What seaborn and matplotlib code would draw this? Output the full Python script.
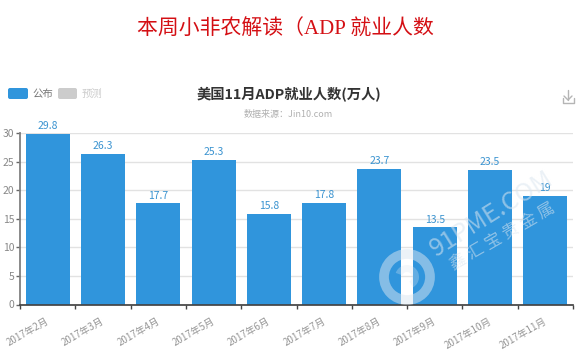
import pandas as pd
import seaborn as sns
import matplotlib
matplotlib.use('Agg')
import matplotlib.pyplot as plt
from matplotlib.patches import FancyBboxPatch, Circle, Wedge
from matplotlib.transforms import ScaledTranslation

months = ['2017年2月', '2017年3月', '2017年4月', '2017年5月', '2017年6月',
          '2017年7月', '2017年8月', '2017年9月', '2017年10月', '2017年11月']
values = [29.8, 26.3, 17.7, 25.3, 15.8, 17.8, 23.7, 13.5, 23.5, 19]
value_labels = ['29.8', '26.3', '17.7', '25.3', '15.8', '17.8', '23.7', '13.5', '23.5', '19']
y_ticks = [0, 5, 10, 15, 20, 25, 30]

W, H = 581, 361
BLUE = '#3095dc'
MARK = '#dbe6f0'

sns.set_theme(style='white')
plt.rcParams['font.family'] = ['Noto Sans CJK SC', 'DejaVu Sans']

df = pd.DataFrame({'month': months, 'value': values})

fig = plt.figure(figsize=(W / 100, H / 100), dpi=100)
ax = fig.add_axes([20 / W, (H - 304.5) / H, 553 / W, 171.5 / H])

ax.yaxis.grid(True, color='#e2e2e2', linewidth=1)
ax.set_axisbelow(True)
sns.barplot(data=df, x='month', y='value', color=BLUE, saturation=1, width=0.795,
            linewidth=0, ax=ax)

ax.set_xlim(-0.5, 9.5)
ax.set_ylim(0, 30)
ax.set_xlabel('')
ax.set_ylabel('')
ax.set_yticks(y_ticks)
ax.tick_params(axis='y', left=True, length=3, width=1, color='#666666', labelcolor='#888888',
               labelsize=7.5, pad=1)

# ticks sit between the bars, labels stay under them
ax.set_xticks(range(len(months)))
ax.set_xticklabels(months, rotation=30, ha='right', rotation_mode='anchor')
ax.tick_params(axis='x', bottom=False, labelcolor='#969696', labelsize=7, pad=2)
shift = ScaledTranslation(-2 / 100, 0, fig.dpi_scale_trans)
for lab in ax.get_xticklabels():
    lab.set_transform(lab.get_transform() + shift)
ax.set_xticks([i - 0.5 for i in range(len(months) + 1)], minor=True)
ax.tick_params(axis='x', which='minor', bottom=True, length=3, width=1, color='#444444')

for s in ['top', 'right']:
    ax.spines[s].set_visible(False)
ax.spines['left'].set_color('#808080')
ax.spines['left'].set_linewidth(1.3)
ax.spines['bottom'].set_color('#444444')

for i, v in enumerate(values):
    ax.annotate(value_labels[i], (i, v), xytext=(0, 2), textcoords='offset points',
                ha='center', va='bottom', fontsize=7.5, color='#3a93d0', clip_on=False)

# pixel coords for everything outside the axes
over = fig.add_axes([0, 0, 1, 1], facecolor='none')
over.set_xlim(0, W)
over.set_ylim(H, 0)
over.axis('off')

over.text(285, 30, '本周小非农解读（ADP 就业人数', color='#d40f14', fontsize=15,
          family=['Liberation Serif', 'Noto Sans CJK SC'], ha='center', va='center')
over.text(289, 95, '美国11月ADP就业人数(万人)', color='#333333', fontsize=10.3,
          fontweight='bold', ha='center', va='center')
over.text(288.5, 115, '数据来源：Jin10.com', color='#b0b0b0', fontsize=6.5,
          ha='center', va='center')

over.add_patch(FancyBboxPatch((8, 88), 20, 11, boxstyle='round,pad=0,rounding_size=2',
                              fc=BLUE, ec='none'))
over.text(32, 93.5, '公布', color='#777777', fontsize=7.5, va='center')
over.add_patch(FancyBboxPatch((58, 88), 19, 11, boxstyle='round,pad=0,rounding_size=2',
                              fc='#cccccc', ec='none'))
over.text(82, 93.5, '预测', color='#cccccc', fontsize=7.5, va='center')

# download icon
icon = '#b5b5b5'
over.plot([568, 568], [90, 100], color=icon, lw=1)
over.plot([564, 568, 572], [96, 100, 96], color=icon, lw=1)
over.plot([562.5, 562.5, 573.5, 573.5], [98, 103, 103, 98], color=icon, lw=1)

# watermark
over.add_patch(Circle((407, 277), 23, fc='none', ec=MARK, lw=7, alpha=0.5))
over.add_patch(Wedge((407, 277), 12, 200, 60, width=7, fc=MARK, ec='none', alpha=0.3))
over.text(492, 214, '91PME.COM', color=MARK, alpha=0.55, fontsize=18, rotation=32,
          ha='center', va='center')
over.text(502, 236, '鑫 汇 宝 贵 金 属', color=MARK, alpha=0.55, fontsize=12, rotation=30,
          ha='center', va='center')

fig.savefig('out.png', dpi=100)
